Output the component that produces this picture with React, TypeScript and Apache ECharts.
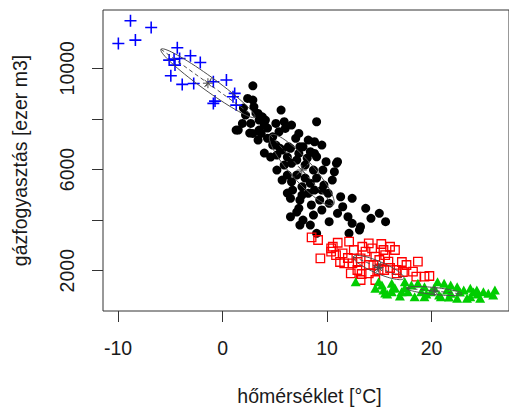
import React, { useEffect, useRef } from "react";
import * as echarts from "echarts";

// Cluster 1 (blue +): coldest days
const coldTemp = [-9.97, -8.81, -8.34, -6.83, -4.33, -5.11, -4.64, -4.11, -3.07, -2.13, -4.95, -3.86, -2.76, -0.88, 0.37, 1.16, 1.0, -0.88, -0.72, 1.31, -4.55];
const coldGas = [10982, 11875, 11113, 11614, 10809, 10323, 10362, 10390, 10493, 10232, 9703, 9363, 9402, 9466, 9533, 9007, 8873, 8612, 8703, 8545, 10125];

// Cluster 2 (black dots)
const coolTemp = [2.9, 2.4, 2.9, 3.0, 3.4, 3.8, 4.1, 5.6, 9.0, 1.5, 1.9, 2.7, 2.9, 3.5, 4.0, 5.1, 5.9, 6.0, 6.6, 5.4, 4.8, 4.3, 7.3, 7.0, 8.2, 8.8, 9.5, 7.7, 5.7, 6.3, 5.1, 8.8, 7.3, 3.7, 3.4, 5.5, 6.5, 7.4, 8.4, 9.0, 9.9, 10.9, 10.7, 9.6, 8.7, 6.6, 5.9, 5.7, 6.6, 7.6, 8.4, 8.2, 9.3, 10.1, 10.2, 11.3, 12.4, 11.5, 11.0, 12.0, 12.4, 13.2, 13.7, 14.2, 15.0, 15.6, 6.5, 7.4, 7.3, 6.5, 7.7, 8.7, 8.4, 7.4, 9.0, 12.1, 13.1, 10.2, 1.3, 11.0, 4.8, 5.2, 6.2, 7.1, 7.9, 8.1, 5.2, 6.2, 7.1, 7.9, 9.0, 6.7, 7.6, 8.5, 9.5, 7.1, 4.6, 4.0, 2.6, 6.2, 3.5, 3.2, 4.3, 2.2, 9.7, 8.8, 10.5, 9.5, 2.0];
const coolGas = [9308, 8810, 8743, 8478, 8217, 8083, 7953, 8348, 7886, 7558, 7822, 7822, 7427, 7558, 7755, 7822, 7886, 7625, 7755, 7491, 7293, 7230, 7427, 7230, 7163, 7096, 6965, 6898, 6768, 6898, 6965, 6637, 6637, 7427, 7163, 6835, 6835, 6898, 6701, 6503, 6306, 6242, 5911, 5978, 5978, 6242, 6175, 5583, 5516, 5318, 5452, 5057, 4793, 5057, 4662, 4923, 4860, 4528, 4267, 4133, 3872, 3738, 4465, 4070, 4267, 3936, 4860, 4793, 4465, 4133, 4003, 4200, 3805, 3805, 3477, 3477, 3608, 3936, 7558, 6306, 6965, 6570, 6490, 6373, 6175, 6452, 5978, 5780, 5780, 5662, 5662, 5188, 4990, 4597, 4400, 4319, 6490, 6650, 7439, 5069, 7953, 8230, 7637, 8150, 5385, 5188, 5583, 5188, 8427];

// Cluster 3 (red squares)
const mildTemp = [8.52, 9.14, 9.36, 10.39, 10.55, 11.02, 12.11, 10.39, 11.49, 10.86, 11.64, 12.43, 12.27, 13.21, 13.37, 13.99, 14.31, 13.68, 16.03, 16.5, 15.4, 14.62, 13.21, 13.99, 14.93, 15.87, 16.66, 17.6, 18.69, 18.22, 18.54, 19.32, 19.79, 14.62, 12.9, 13.99, 16.66, 15.0, 15.56, 12.56, 14.43, 16.03, 17.16, 15.19, 11.99, 11.24, 12.93, 15.47, 13.31, 17.26];
const mildGas = [3319, 3213, 2490, 2885, 2948, 3106, 3146, 2751, 2687, 2620, 2292, 2292, 1897, 1633, 2948, 3082, 2885, 2751, 2948, 2818, 2818, 2553, 2490, 2225, 2028, 2356, 2028, 2225, 2356, 1961, 1763, 1763, 1791, 1633, 2028, 1897, 1897, 2423, 2620, 2818, 2225, 2107, 2344, 3055, 2502, 2344, 2344, 2028, 1870, 1949];

// Cluster 4 (green triangles)
const warmTemp = [12.74, 14.93, 14.62, 15.4, 16.19, 17.44, 18.07, 18.69, 19.32, 20.57, 21.2, 21.83, 22.45, 23.08, 23.71, 24.33, 24.96, 26.06, 24.65, 23.39, 22.45, 20.89, 19.32, 18.38, 17.13, 16.19, 15.25, 19.95, 21.83, 17.75, 19.01, 23.71, 25.43, 16.5, 20.26, 21.48, 22.71, 24.02, 17.44, 15.75, 20.73, 21.67, 24.4, 19.5, 16.97, 15.56, 16.3, 25.9];
const warmGas = [1566, 1566, 1305, 1238, 1502, 1566, 1435, 1502, 1368, 1566, 1502, 1435, 1368, 1238, 1305, 1238, 1171, 1238, 910, 910, 910, 973, 973, 973, 1171, 1171, 1435, 1171, 1107, 1171, 1171, 973, 1107, 1317, 1317, 1238, 1159, 1159, 1317, 1080, 1040, 961, 1080, 1080, 1000, 1119, 1317, 1040];

// Cluster ellipses: centre, major and minor semi-axis vectors (data units)
const clusterCenters = [[-1.4, 9410], [7.58, 5978], [14.93, 2126], [20.26, 1198]];
const clusterMajor = [[4.5, -1343], [3.01, -1383], [2.42, -427], [2.66, -113]];
const clusterMinor = [[-0.375, -227], [-0.76, -293], [-0.22, -218], [-0.033, -137]];

const xTicks = [-10, 0, 10, 20];
const yTicks = [2000, 4000, 6000, 8000, 10000];
const yLabelValues = [2000, 6000, 10000];

const xTitle = "hőmérséklet [°C]";
const yTitle = "gázfogyasztás [ezer m3]";

const FONT = "'Liberation Sans', Arial, Helvetica, sans-serif";
const GREY = "#4d4d4d";

const zip = (a: number[], b: number[]) => a.map((v, i) => [v, b[i]]);

function ellipsePoints(c: number[], a: number[], b: number[]) {
  const pts: number[][] = [];
  const n = 72;
  for (let i = 0; i <= n; i++) {
    const t = (i / n) * Math.PI * 2;
    pts.push([c[0] + a[0] * Math.cos(t) + b[0] * Math.sin(t), c[1] + a[1] * Math.cos(t) + b[1] * Math.sin(t)]);
  }
  return pts;
}

export default function App() {
  const ref = useRef<HTMLDivElement>(null);
  useEffect(() => {
    if (!ref.current) return;
    const chart = echarts.init(ref.current, undefined, { renderer: "svg" });
    const series: any[] = [
      {
        type: "scatter",
        data: zip(coolTemp, coolGas),
        symbol: "circle",
        symbolSize: 9,
        itemStyle: { color: "#000000", opacity: 1 },
        silent: true,
      },
      {
        type: "scatter",
        data: zip(coldTemp, coldGas),
        symbol: "path://M0,4.35H10V5.65H0ZM4.35,0H5.65V10H4.35Z",
        symbolSize: 12,
        itemStyle: { color: "#0000ff", opacity: 1 },
        silent: true,
      },
      {
        type: "scatter",
        data: zip(mildTemp, mildGas),
        symbol: "rect",
        symbolSize: 8.5,
        itemStyle: { color: "rgba(0,0,0,0)", borderColor: "#ff0000", borderWidth: 1.3, opacity: 1 },
        silent: true,
      },
      {
        type: "scatter",
        data: zip(warmTemp, warmGas),
        symbol: "triangle",
        symbolSize: [10, 9],
        itemStyle: { color: "#00cd00", opacity: 1 },
        silent: true,
      },
    ];
    clusterCenters.forEach((c, k) => {
      const a = clusterMajor[k];
      const b = clusterMinor[k];
      series.push({
        type: "line",
        data: ellipsePoints(c, a, b),
        showSymbol: false,
        smooth: false,
        silent: true,
        lineStyle: { color: GREY, width: 1 },
      });
      series.push({
        type: "line",
        data: [[c[0] - a[0], c[1] - a[1]], [c[0] + a[0], c[1] + a[1]]],
        showSymbol: false,
        silent: true,
        lineStyle: { color: GREY, width: 1, type: [4, 3] },
      });
      series.push({
        type: "line",
        data: [[c[0] - b[0], c[1] - b[1]], [c[0] + b[0], c[1] + b[1]]],
        showSymbol: false,
        silent: true,
        lineStyle: { color: GREY, width: 1, type: [4, 3] },
      });
    });
    series.push({
      type: "scatter",
      data: clusterCenters.map((c) => [c[0], c[1]]),
      symbol: "path://M5,0V10M0,5H10M1.5,1.5L8.5,8.5M8.5,1.5L1.5,8.5",
      symbolSize: 10,
      itemStyle: { color: "rgba(0,0,0,0)", borderColor: GREY, borderWidth: 1, opacity: 1 },
      silent: true,
    });

    chart.setOption({
      animation: false,
      backgroundColor: "#ffffff",
      grid: {
        left: 103,
        top: 10,
        width: 413,
        height: 301,
        show: true,
        borderColor: "#333333",
        borderWidth: 1,
        backgroundColor: "transparent",
      },
      xAxis: {
        type: "value",
        min: -11.44,
        max: 27.41,
        position: "bottom",
        axisLine: { show: false, onZero: false },
        splitLine: { show: false },
        axisTick: { show: true, length: 11, lineStyle: { color: "#333333" }, customValues: xTicks },
        axisLabel: {
          show: true,
          margin: 27,
          fontSize: 19.5,
          fontFamily: FONT,
          color: "#1a1a1a",
          customValues: xTicks,
          formatter: (v: number) => String(v),
        },
      },
      yAxis: {
        type: "value",
        min: 408,
        max: 12303,
        position: "left",
        axisLine: { show: false, onZero: false },
        splitLine: { show: false },
        axisTick: { show: true, length: 11, lineStyle: { color: "#333333" }, customValues: yTicks },
        axisLabel: {
          show: true,
          rotate: 90,
          margin: 26,
          fontSize: 19.5,
          fontFamily: FONT,
          color: "#1a1a1a",
          customValues: yLabelValues,
          formatter: (v: number) => String(v),
        },
      },
      graphic: [
        {
          type: "text",
          x: 309.5,
          y: 396,
          silent: true,
          style: { text: xTitle, fontSize: 19.5, fontFamily: FONT, fill: "#1a1a1a", align: "center", verticalAlign: "middle" },
        },
        {
          type: "text",
          x: 20,
          y: 160.5,
          rotation: Math.PI / 2,
          silent: true,
          style: { text: yTitle, fontSize: 19.5, fontFamily: FONT, fill: "#1a1a1a", align: "center", verticalAlign: "middle" },
        },
      ],
      series,
    });
    return () => chart.dispose();
  }, []);
  return <div ref={ref} style={{ position: "fixed", left: 0, top: 0, width: 509, height: 407, background: "#fff" }} />;
}
